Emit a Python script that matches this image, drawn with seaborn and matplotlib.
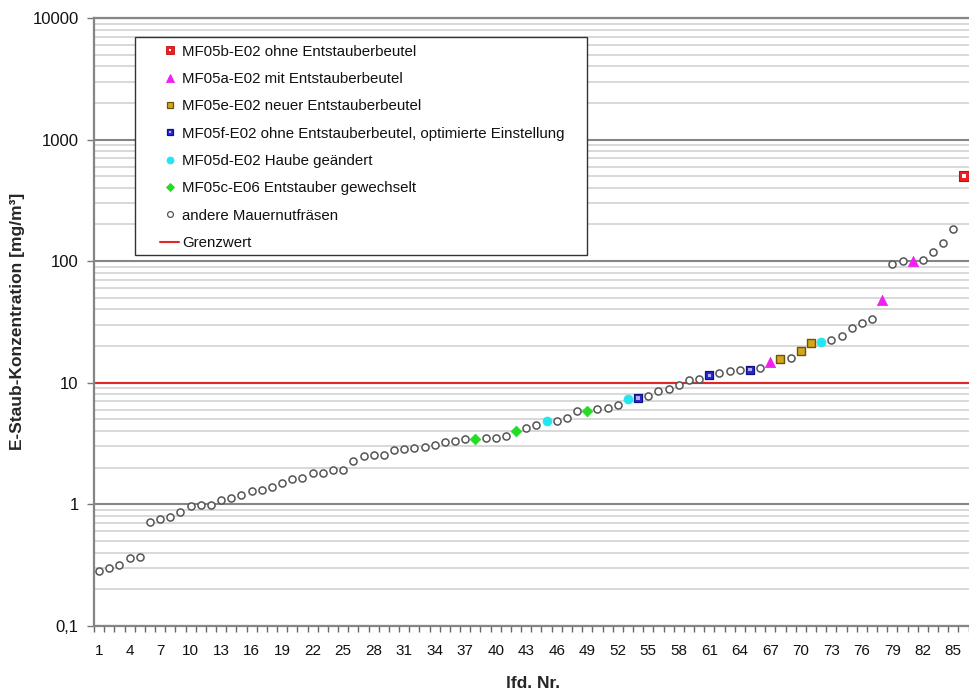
import numpy as np
import pandas as pd
import matplotlib
matplotlib.use("Agg")
import matplotlib.pyplot as plt
import seaborn as sns
from matplotlib.lines import Line2D
from matplotlib.patches import Rectangle
from matplotlib.legend_handler import HandlerTuple
from matplotlib.ticker import FixedLocator, FixedFormatter, LogLocator, NullFormatter

# laufende Nummer der Messung
nr = list(range(1, 88))

# E-Staub-Konzentration in mg/m³, aufsteigend sortiert
konzentration = [
    0.284, 0.300, 0.318, 0.359, 0.370, 0.715, 0.752, 0.782, 0.859, 0.968,
    0.980, 0.990, 1.09, 1.13, 1.18, 1.29, 1.30, 1.39, 1.50, 1.62,
    1.65, 1.80, 1.82, 1.92, 1.92, 2.27, 2.50, 2.54, 2.54, 2.79,
    2.86, 2.90, 2.98, 3.08, 3.22, 3.32, 3.43, 3.45, 3.47, 3.52,
    3.64, 4.00, 4.23, 4.48, 4.80, 4.82, 5.14, 5.80, 5.88, 6.11,
    6.18, 6.59, 7.34, 7.48, 7.71, 8.59, 8.88, 9.50, 10.6, 10.7,
    11.5, 11.9, 12.4, 12.6, 12.8, 13.2, 14.8, 15.7, 15.9, 18.2,
    21.2, 21.5, 22.6, 24.3, 27.9, 30.7, 33.5, 48.0, 94.0, 100.0,
    100.0, 103.0, 119.0, 140.0, 185.0, 501.0, 2450.0,
]

# Zuordnung der Messungen zu den hervorgehobenen Fräsen
nr_mf05b = [86]
nr_mf05a = [67, 78, 81]
nr_mf05e = [68, 70, 71]
nr_mf05f = [54, 61, 65]
nr_mf05d = [45, 53, 72]
nr_mf05c = [38, 42, 49]

grenzwert = 10.0

serien = [
    "MF05b-E02 ohne Entstauberbeutel",
    "MF05a-E02 mit Entstauberbeutel",
    "MF05e-E02 neuer Entstauberbeutel",
    "MF05f-E02 ohne Entstauberbeutel, optimierte Einstellung",
    "MF05d-E02 Haube geändert",
    "MF05c-E06 Entstauber gewechselt",
    "andere Mauernutfräsen",
]
label_grenzwert = "Grenzwert"

y_ticks = [0.1, 1, 10, 100, 1000, 10000]
y_ticklabels = ["0,1", "1", "10", "100", "1000", "10000"]
x_ticks = list(range(1, 88, 3))
x_ticklabels = [str(v) for v in x_ticks]

y_label = "E-Staub-Konzentration [mg/m³]"
x_label = "lfd. Nr."

# ---------------------------------------------------------------
zuordnung = {}
for name, nummern in zip(serien[:6], [nr_mf05b, nr_mf05a, nr_mf05e,
                                      nr_mf05f, nr_mf05d, nr_mf05c]):
    for n in nummern:
        zuordnung[n] = name
df = pd.DataFrame({"Nr": nr, "Konz": konzentration})
df["Gruppe"] = [zuordnung.get(n, serien[6]) for n in nr]

sns.set_theme(style="white")
plt.rcParams["font.family"] = ["Liberation Sans", "DejaVu Sans"]
plt.rcParams["text.color"] = "#111111"

fig = plt.figure(figsize=(9.70, 6.91), dpi=100)
# Plotbereich reicht rechts etwas über den Bildrand hinaus
ax = fig.add_axes([94 / 970, 65.3 / 691, 884.8 / 970, 607.7 / 691])

ax.set_yscale("log")
ax.set_ylim(0.1, 10000)
ax.set_xlim(0.5, 87.5)

# Gitternetz
ax.yaxis.set_major_locator(FixedLocator(y_ticks))
ax.yaxis.set_major_formatter(FixedFormatter(y_ticklabels))
ax.yaxis.set_minor_locator(LogLocator(base=10, subs=np.arange(2, 10)))
ax.yaxis.set_minor_formatter(NullFormatter())
ax.grid(False)
ax.grid(True, which="minor", axis="y", color="#d6d6d6", lw=1.3, zorder=0)
ax.grid(True, which="major", axis="y", color="#858585", lw=1.5, zorder=0)
ax.set_axisbelow(True)

ax.axhline(grenzwert, color="#e02828", lw=1.5, zorder=1)

# andere Mauernutfräsen
sub = df[df["Gruppe"] == serien[6]]
sns.scatterplot(data=sub, x="Nr", y="Konz", ax=ax, marker="o", s=26,
                color="white", edgecolor="#555555", linewidth=1.1,
                legend=False, zorder=3)

# MF05c: grüne Rauten
sub = df[df["Gruppe"] == serien[5]]
sns.scatterplot(data=sub, x="Nr", y="Konz", ax=ax, marker="D", s=30,
                color="#22dd22", edgecolor="#22dd22", linewidth=0.5,
                legend=False, zorder=4)

# MF05d: türkise Punkte
sub = df[df["Gruppe"] == serien[4]]
sns.scatterplot(data=sub, x="Nr", y="Konz", ax=ax, marker="o", s=42,
                color="#22e6f2", edgecolor="#22e6f2", linewidth=0.5,
                legend=False, zorder=4)

# MF05f: blaue Quadrate mit hellem Kern
sub = df[df["Gruppe"] == serien[3]]
sns.scatterplot(data=sub, x="Nr", y="Konz", ax=ax, marker="s", s=40,
                color="#2a2ad0", edgecolor="#101080", linewidth=0.9,
                legend=False, zorder=4)
sns.scatterplot(data=sub, x="Nr", y="Konz", ax=ax, marker="s", s=6,
                color="#b0b0ff", edgecolor="none", linewidth=0,
                legend=False, zorder=5)

# MF05e: goldene Quadrate
sub = df[df["Gruppe"] == serien[2]]
sns.scatterplot(data=sub, x="Nr", y="Konz", ax=ax, marker="s", s=40,
                color="#d6a51e", edgecolor="#6e5400", linewidth=1.0,
                legend=False, zorder=4)

# MF05a: magentafarbene Dreiecke
sub = df[df["Gruppe"] == serien[1]]
sns.scatterplot(data=sub, x="Nr", y="Konz", ax=ax, marker="^", s=55,
                color="#f020f0", edgecolor="#f020f0", linewidth=0.5,
                legend=False, zorder=4)

# MF05b: rotes Quadrat mit weißem Kern
sub = df[df["Gruppe"] == serien[0]]
sns.scatterplot(data=sub, x="Nr", y="Konz", ax=ax, marker="s", s=48,
                color="#ee2020", edgecolor="#c01010", linewidth=0.8,
                legend=False, zorder=4)
sns.scatterplot(data=sub, x="Nr", y="Konz", ax=ax, marker="s", s=8,
                color="white", edgecolor="none", linewidth=0,
                legend=False, zorder=5)

# Achsen
ax.set_xticks(x_ticks)
ax.set_xticklabels(x_ticklabels)
ax.set_xticks(np.arange(0.5, 88, 1), minor=True)
ax.tick_params(axis="x", which="major", length=0, pad=13, labelsize=11,
               labelcolor="#111111")
ax.tick_params(axis="x", which="minor", length=4, width=1.0,
               color="#666666", direction="out", bottom=True)
ax.tick_params(axis="y", which="major", length=5, width=1.0,
               color="#777777", direction="out", left=True, pad=6,
               labelsize=12, labelcolor="#111111")
ax.tick_params(axis="y", which="minor", length=0)

for side in ["left", "bottom", "top"]:
    ax.spines[side].set_visible(True)
    ax.spines[side].set_color("#858585")
    ax.spines[side].set_linewidth(1.6)
ax.spines["right"].set_visible(False)

ax.set_xlabel(x_label, fontsize=12.5, fontweight="bold")
ax.set_ylabel(y_label, fontsize=12.5, fontweight="bold")
ax.xaxis.set_label_coords((533 - 94) / 884.8, (625.7 - 683) / 607.7)
ax.xaxis.label.set_va("center")
ax.yaxis.set_label_coords((18 - 94) / 884.8, 0.5)
ax.yaxis.label.set_va("center")

# Legende
def mk(marker, size, face, edge, ew=0.6):
    return Line2D([], [], ls="none", marker=marker, markersize=size,
                  markerfacecolor=face, markeredgecolor=edge,
                  markeredgewidth=ew)

handles = [
    (mk("s", 5.6, "#ee2020", "#c01010"), mk("s", 1.8, "white", "none", 0)),
    mk("^", 6.0, "#f020f0", "#f020f0"),
    mk("s", 5.0, "#d6a51e", "#6e5400", 0.9),
    (mk("s", 5.0, "#2a2ad0", "#101080", 0.9), mk("s", 1.6, "#b0b0ff", "none", 0)),
    mk("o", 5.0, "#22e6f2", "#22e6f2"),
    mk("D", 4.4, "#22dd22", "#22dd22"),
    mk("o", 4.2, "white", "#555555", 0.9),
    Line2D([], [], color="#e02828", lw=1.5),
]
labels = serien + [label_grenzwert]

rahmen = Rectangle((135 / 970, 1 - 255 / 691), 452 / 970, 218 / 691,
                   transform=fig.transFigure, facecolor="white",
                   edgecolor="#333333", lw=1.0, zorder=6, clip_on=False)
ax.add_patch(rahmen)

leg = ax.legend(handles, labels, loc="upper left",
                bbox_to_anchor=(160 / 970, 1 - 44.5 / 691),
                bbox_transform=fig.transFigure, frameon=False,
                borderpad=0, borderaxespad=0, fontsize=10.8,
                handlelength=1.27, handletextpad=0.22, labelspacing=0.89,
                handler_map={tuple: HandlerTuple(ndivide=1, pad=0)})
leg.set_zorder(7)

fig.savefig("out.png", dpi=100)
